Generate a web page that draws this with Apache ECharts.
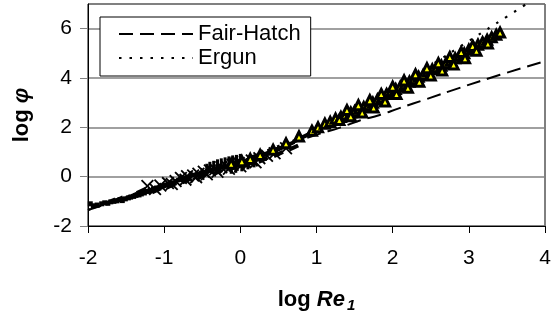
<!DOCTYPE html>
<html>
<head>
<meta charset="utf-8">
<script src="https://cdn.jsdelivr.net/npm/echarts@6/dist/echarts.min.js"></script>
<style>
html,body{margin:0;padding:0;background:#fff;}
#chart{width:556px;height:323px;}
</style>
</head>
<body>
<div id="chart"></div>
<script>
// ---- data (log Re1, log phi) ----
var xTicks = [-2, -1, 0, 1, 2, 3, 4];
var yTicks = [-2, 0, 2, 4, 6];

var fairHatch = [[-2,-1.35],[-1.5,-0.85],[-1,-0.34],[-0.5,0.17],[0,0.68],[0.5,1.18],[1,1.7],[1.31,1.99],[1.57,2.28],[1.83,2.5],[2.09,2.78],[2.45,3.15],[2.88,3.6],[3.41,4.13],[4,4.68]];
var ergun = [[-2,-1.35],[-1.5,-0.85],[-1,-0.35],[-0.5,0.16],[0,0.68],[0.5,1.24],[1,1.88],[1.5,2.65],[2,3.55],[2.5,4.51],[3,5.5],[3.5,6.49],[4,7.49]];

var dots = [[-1.97,-1.1],[-1.93,-1.18],[-1.88,-1.15],[-1.82,-1.1],[-1.78,-1.06],[-1.74,-1.08],[-1.7,-1.02],[-1.66,-1.0],[-1.62,-0.98],[-1.58,-0.93],[-1.55,-0.97],[-1.51,-0.9],[-1.47,-0.86],[-1.44,-0.83],[-1.4,-0.8],[-1.37,-0.76],[-1.33,-0.74],[-1.3,-0.7],[-1.26,-0.66],[-1.22,-0.6],[-1.18,-0.56],[-1.14,-0.5],[-1.1,-0.46],[-1.05,-0.4],[-1.0,-0.35],[-0.95,-0.3],[-0.9,-0.25]];
var dashes = [[-1.7,-1.0],[-1.6,-0.92],[-1.5,-0.88],[-1.42,-0.78],[-1.35,-0.7],[-1.25,-0.62],[-1.15,-0.52],[-1.05,-0.43],[-0.95,-0.32],[-0.85,-0.2],[-0.75,-0.08],[-0.65,0.02],[-0.55,0.12],[-0.45,0.2],[-0.35,0.3],[-0.25,0.38],[-0.15,0.46],[-0.05,0.55],[0.05,0.62],[0.15,0.72],[0.25,0.82],[0.35,0.95],[0.45,1.05],[0.55,1.18],[0.65,1.32],[0.75,1.5],[0.85,1.65],[0.95,1.8],
  [-1.3,-0.58],[-1.1,-0.55],[-0.9,-0.35],[-0.7,-0.15],[-0.5,0.02],[-0.3,0.18],[-0.1,0.35],[0.1,0.5],[0.3,0.68],[0.5,0.92],[0.7,1.18]];
var crosses = [[-1.22,-0.38],[-1.05,-0.36],[-0.95,-0.26],[-0.85,-0.18],[-0.78,-0.05],[-0.7,0.02],[-0.62,0.05],[-0.55,0.12],[-0.48,0.2],[-0.4,0.25],[-0.33,0.3],[-0.25,0.38],[-0.18,0.42],[-0.1,0.48],[-0.02,0.55],[0.06,0.6],[0.15,0.66],[0.25,0.75],[0.35,0.85],
  [-1.12,-0.5],[-0.9,-0.3],[-0.72,-0.12],[-0.58,-0.02],[-0.44,0.1],[-0.3,0.2],[-0.15,0.32],[0.0,0.42],[0.2,0.58],[0.45,0.95],[0.6,1.15]];
var ticksMk = [[-0.44,0.3],[-0.4,0.38],[-0.35,0.42],[-0.3,0.48],[-0.25,0.52],[-0.2,0.56],[-0.15,0.6],[-0.1,0.64],[-0.05,0.66],[0.0,0.7],[-0.12,0.34],[-0.06,0.38],[0.02,0.44],[0.1,0.52],[0.18,0.6]];
var triangles = [[-0.12,0.52],[0.02,0.63],[0.13,0.72],[0.26,0.88],[0.43,1.09],[0.6,1.35],[0.77,1.63],[0.94,1.86],[1.02,2.0],[1.11,2.15],[1.18,2.22],[1.25,2.35],[1.32,2.42],[1.38,2.5],[1.45,2.6],[1.5,2.65],[1.56,2.75],[1.62,2.82],[1.68,2.9],[1.74,3.0],[1.8,3.12],[1.86,3.22],[1.92,3.35],[1.98,3.45],[2.04,3.55],[2.1,3.65],[2.16,3.75],[2.22,3.85],[2.28,3.95],[2.34,4.05],[2.4,4.12],[2.46,4.25],[2.52,4.35],[2.58,4.42],[2.64,4.5],[2.7,4.6],[2.76,4.7],[2.82,4.8],[2.88,4.9],[2.94,5.0],[3.0,5.15],[3.06,5.25],[3.12,5.35],[3.18,5.45],[3.24,5.55],[3.3,5.65],[3.36,5.75],[3.41,5.84],
  [1.4,2.7],[1.55,2.9],[1.7,3.1],[1.85,3.35],[2.0,3.65],[2.15,3.9],[2.3,4.15],[2.45,4.4],[2.6,4.6],[2.75,4.85],[2.9,5.05],[3.05,5.3],
  [1.3,2.3],[1.45,2.45],[1.6,2.6],[1.75,2.8],[1.9,3.05],[2.05,3.35],[2.2,3.6],[2.35,3.85],[2.5,4.1],[2.65,4.3],[2.8,4.55],[2.95,4.8],[3.1,5.1],[3.25,5.4]];

var FONT = "'Liberation Sans', Arial, sans-serif";
var chart = echarts.init(document.getElementById('chart'), null, {renderer: 'canvas'});
var crossPath = 'path://M1,0 L5,4 L9,0 L10,1 L6,5 L10,9 L9,10 L5,6 L1,10 L0,9 L4,5 L0,1 Z';

chart.setOption({
  animation: false,
  backgroundColor: '#fff',
  textStyle: {fontFamily: FONT},
  grid: {left: 88, right: 11, top: 4, bottom: 97, show: true, borderColor: '#000', borderWidth: 1, backgroundColor: 'transparent'},
  legend: {
    data: [
      {name: 'Fair-Hatch', itemStyle: {opacity: 0}},
      {name: 'Ergun', itemStyle: {opacity: 0}}
    ],
    orient: 'vertical', left: 100, top: 17,
    padding: [6, 10, 7, 18], itemGap: 2,
    itemWidth: 74, itemHeight: 14,
    backgroundColor: '#fff', borderColor: '#000', borderWidth: 1,
    textStyle: {fontSize: 22, color: '#000', fontFamily: FONT},
    selectedMode: false
  },
  xAxis: {
    type: 'value', min: -2, max: 4, interval: 1,
    axisLine: {show: true, onZero: false, lineStyle: {color: '#000', width: 1}},
    axisTick: {show: true, inside: false, length: 7, lineStyle: {color: '#000'}},
    axisLabel: {fontSize: 21, color: '#000', margin: 22, fontFamily: FONT,
      formatter: function (v) { return xTicks.indexOf(v) >= 0 ? String(v) : ''; }},
    splitLine: {show: false},
    name: '{a|log }{b|Re}{c|1}',
    nameLocation: 'middle', nameGap: 63,
    nameTextStyle: {
      rich: {
        a: {fontSize: 22, fontWeight: 'bold', color: '#000', fontFamily: FONT, verticalAlign: 'top', lineHeight: 24},
        b: {fontSize: 22, fontWeight: 'bold', fontStyle: 'italic', color: '#000', fontFamily: FONT, verticalAlign: 'top', lineHeight: 24},
        c: {fontSize: 15, fontWeight: 'bold', fontStyle: 'italic', color: '#000', fontFamily: FONT, verticalAlign: 'bottom', lineHeight: 15, padding: [14, 0, 0, 2]}
      }
    }
  },
  yAxis: {
    type: 'value', min: -2, max: 7, interval: 2,
    axisLine: {show: true, onZero: false, lineStyle: {color: '#000', width: 1}},
    axisTick: {show: true, inside: false, length: 8, lineStyle: {color: '#808080'}},
    axisLabel: {fontSize: 21, color: '#000', margin: 16, fontFamily: FONT, showMaxLabel: false,
      formatter: function (v) { return yTicks.indexOf(v) >= 0 ? String(v) : ''; }},
    splitLine: {show: true, lineStyle: {color: '#808080', width: 1.5}},
    name: '{a|log }{b|φ}',
    nameLocation: 'middle', nameGap: 55, nameRotate: 90,
    nameTextStyle: {
      rich: {
        a: {fontSize: 22, fontWeight: 'bold', color: '#000', fontFamily: FONT},
        b: {fontSize: 22, fontWeight: 'bold', fontStyle: 'italic', color: '#000', fontFamily: FONT}
      }
    }
  },
  series: [
    {name: 'Fair-Hatch', type: 'line', data: fairHatch, smooth: true, symbol: 'none', z: 2,
      lineStyle: {color: '#000', width: 2, type: [14, 7]}, itemStyle: {color: '#000'}},
    {name: 'Ergun', type: 'line', data: ergun, smooth: true, symbol: 'none', z: 2,
      lineStyle: {color: '#000', width: 2.2, type: [2.5, 8]}, itemStyle: {color: '#000'}},
    {name: 'dots', type: 'scatter', data: dots, symbol: 'rect', symbolSize: 5, z: 3, itemStyle: {color: '#000', opacity: 1}},
    {name: 'dashes', type: 'scatter', data: dashes, symbol: 'rect', symbolSize: [10, 4], symbolRotate: 25, z: 3, itemStyle: {color: '#000', opacity: 1}},
    {name: 'crosses', type: 'scatter', data: crosses, symbol: crossPath, symbolSize: 13, z: 3, itemStyle: {color: '#000', opacity: 1}},
    {name: 'ticks', type: 'scatter', data: ticksMk, symbol: 'rect', symbolSize: [3, 11], z: 3, itemStyle: {color: '#000', opacity: 1}},
    {name: 'triangles', type: 'scatter', data: triangles, symbol: 'triangle', symbolSize: 9, z: 4,
      itemStyle: {color: '#ffff00', borderColor: '#000', borderWidth: 3, opacity: 1}}
  ]
});
</script>
</body>
</html>
